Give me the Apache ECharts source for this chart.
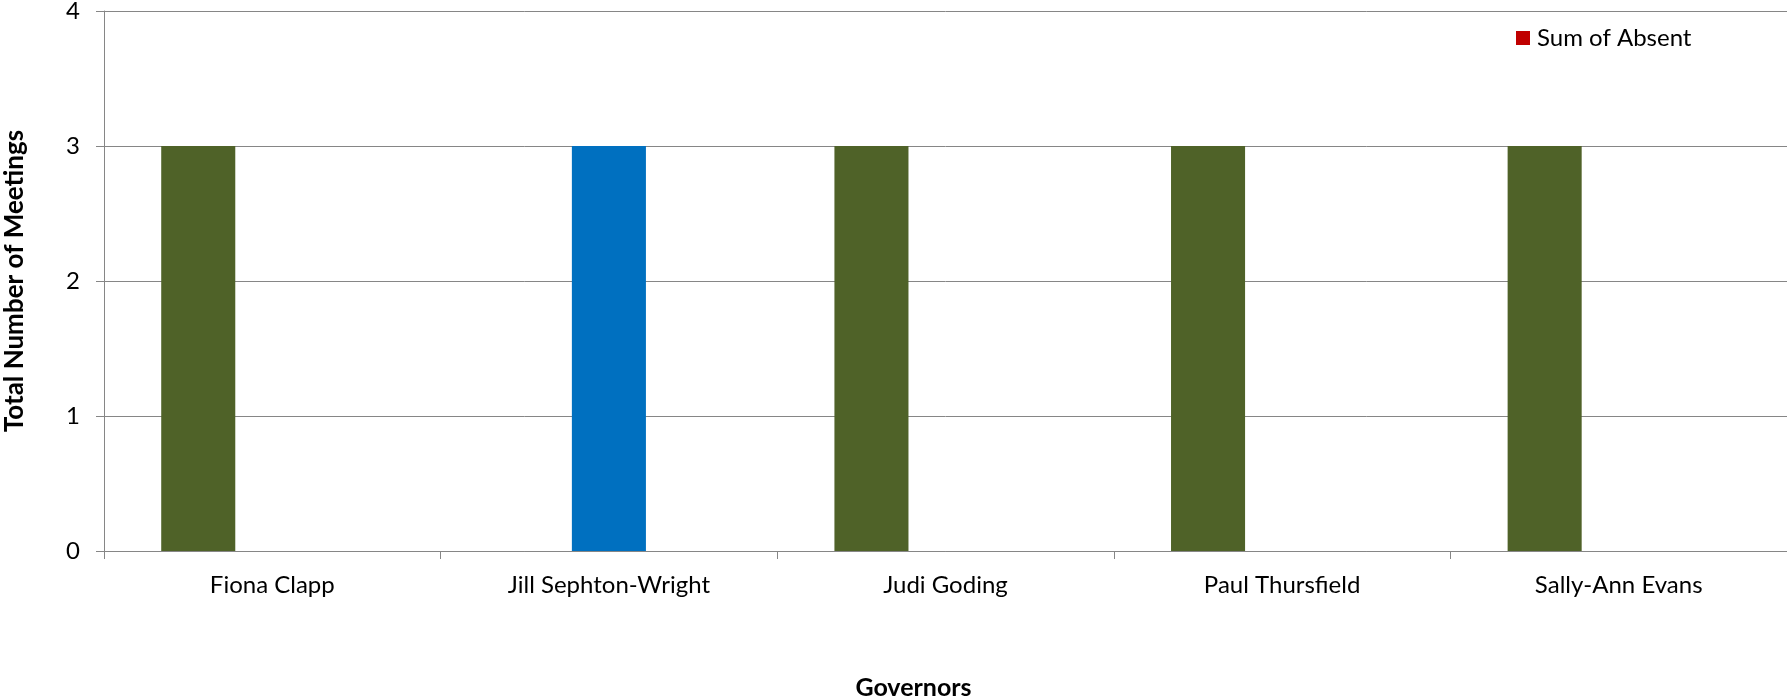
<!DOCTYPE html>
<html>
<head>
<meta charset="utf-8">
<script src="https://cdn.jsdelivr.net/npm/echarts@6/dist/echarts.min.js"></script>
<style>
html,body{margin:0;padding:0;background:#fff;}
#chart{width:1787px;height:699px;}
</style>
</head>
<body>
<div id="chart"></div>
<script>
var categories = ['Fiona Clapp', 'Jill Sephton-Wright', 'Judi Goding', 'Paul Thursfield', 'Sally-Ann Evans'];
var seriesGreen = [3, null, 3, 3, 3];
var seriesBlue = [null, 3, null, null, null];
var seriesAbsent = [0, 0, 0, 0, 0];
var yTicks = [0, 1, 2, 3, 4];

var FONT = 'Lato';
var chart = echarts.init(document.getElementById('chart'));
chart.setOption({
  animation: false,
  backgroundColor: '#ffffff',
  grid: { left: 104, right: 0, top: 11, bottom: 148, containLabel: false, outerBoundsMode: 'none' },
  legend: {
    data: ['Sum of Absent'],
    left: 1511, top: 21,
    icon: 'rect', itemWidth: 14, itemHeight: 14, itemGap: 10,
    textStyle: { fontFamily: FONT, fontSize: 24, color: '#000', padding: [0,0,0,2] }
  },
  xAxis: {
    type: 'category',
    data: categories,
    name: 'Governors',
    nameLocation: 'middle',
    nameGap: 124,
    nameTextStyle: { fontFamily: FONT, fontSize: 25, fontWeight: 'bold', color: '#000', padding: [0, 64, 0, 0] },
    axisLine: { lineStyle: { color: '#868686', width: 1 } },
    axisTick: { show: true, length: 8, lineStyle: { color: '#868686' } },
    axisLabel: { fontFamily: FONT, fontSize: 24, color: '#000', margin: 22 },
    splitLine: { show: false }
  },
  yAxis: {
    type: 'value',
    min: yTicks[0], max: yTicks[yTicks.length - 1], interval: 1,
    name: 'Total Number of Meetings',
    nameLocation: 'middle',
    nameGap: 76,
    nameTextStyle: { fontFamily: FONT, fontSize: 26, fontWeight: 'bold', color: '#000' },
    axisLine: { show: true, lineStyle: { color: '#868686', width: 1 } },
    axisTick: { show: true, length: 8, lineStyle: { color: '#868686' } },
    axisLabel: { fontFamily: FONT, fontSize: 24, color: '#000', margin: 24 },
    splitLine: { show: true, lineStyle: { color: '#868686', width: 1 } }
  },
  series: [
    { name: 'Sum of Attended', type: 'bar', data: seriesGreen, itemStyle: { color: '#4F6228' },
      barGap: '0%', barCategoryGap: '34%' },
    { name: 'Sum of Apologies', type: 'bar', data: seriesBlue, itemStyle: { color: '#0070C0' },
      barGap: '0%', barCategoryGap: '34%' },
    { name: 'Sum of Absent', type: 'bar', data: seriesAbsent, itemStyle: { color: '#C00000' },
      barGap: '0%', barCategoryGap: '34%' }
  ]
});
</script>
</body>
</html>
